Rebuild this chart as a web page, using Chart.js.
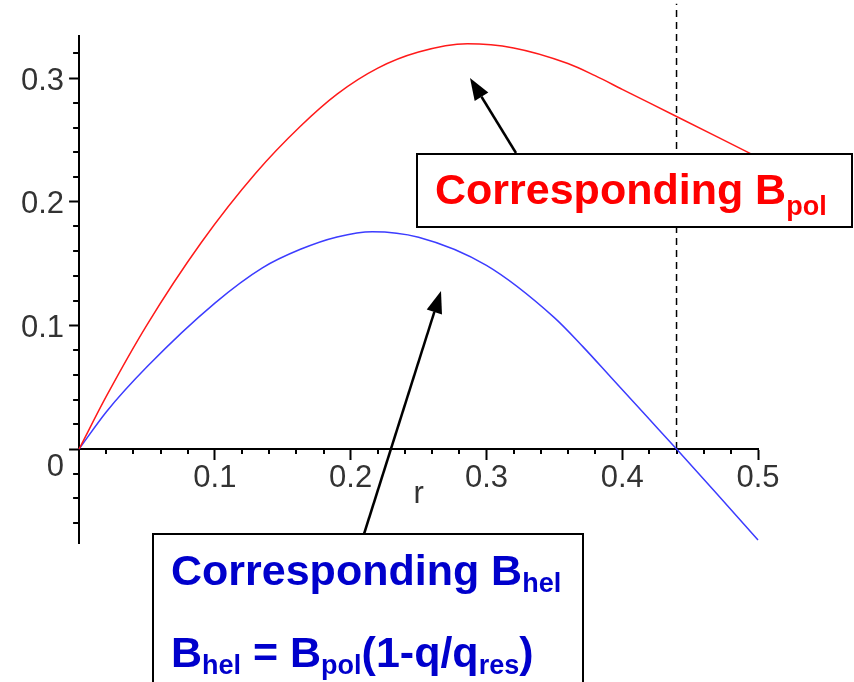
<!DOCTYPE html>
<html>
<head>
<meta charset="utf-8">
<script src="https://cdn.jsdelivr.net/npm/chart.js@4.4.1/dist/chart.umd.min.js"></script>
<style>
  html, body { margin: 0; padding: 0; background: #fff; }
  #wrap { width: 854px; height: 682px; position: relative; }
</style>
</head>
<body>
<div id="wrap"><canvas id="fieldChart"></canvas></div>
<script>
// poloidal field B_pol(r)
const rPol = [0, 0.02, 0.05, 0.09, 0.13, 0.163, 0.19, 0.22, 0.25, 0.286, 0.32, 0.36, 0.38, 0.40, 0.44, 0.47, 0.50];
const bPol = [0, 0.0425, 0.1004, 0.167, 0.223, 0.261, 0.287, 0.308, 0.321, 0.3277, 0.3243, 0.3117, 0.3019, 0.2909, 0.2689, 0.2524, 0.2359];

// helical field B_hel = B_pol (1 - q/q_res)
const rHel = [0, 0.02, 0.05, 0.10, 0.135, 0.163, 0.19, 0.216, 0.25, 0.30, 0.35, 0.371, 0.392, 0.42, 0.44, 0.47, 0.50];
const bHel = [0, 0.030, 0.0665, 0.118, 0.1465, 0.1615, 0.1715, 0.1758, 0.1713, 0.1485, 0.1063, 0.0828, 0.0576, 0.024, 0, -0.0365, -0.0735];

// resonant surface q = q_res
const rRes = [0.44, 0.44];
const resLine = [0, 0.3600];

const xMajor = [0.1, 0.2, 0.3, 0.4, 0.5];
const xMinor = [0.02, 0.04, 0.06, 0.08, 0.12, 0.14, 0.16, 0.18, 0.22, 0.24, 0.26, 0.28,
                0.32, 0.34, 0.36, 0.38, 0.42, 0.44, 0.46, 0.48];
const yMajor = [0, 0.1, 0.2, 0.3];
const yMinor = [-0.06, -0.04, -0.02, 0.02, 0.04, 0.06, 0.08, 0.12, 0.14, 0.16, 0.18,
                0.22, 0.24, 0.26, 0.28, 0.32];

const FONT = '"Liberation Sans", Arial, sans-serif';
const tickFont = { family: FONT, size: 31 };

const toPoints = (xs, ys) => xs.map((x, i) => ({ x: x, y: ys[i] }));

// short unlabeled ticks between the major ones
const minorTicks = {
  id: 'minorTicks',
  beforeDatasetsDraw(chart) {
    const { ctx, scales: { x, y } } = chart;
    const x0 = x.getPixelForValue(0);
    const y0 = y.getPixelForValue(0);
    ctx.save();
    ctx.strokeStyle = '#000';
    ctx.lineWidth = 2;
    ctx.beginPath();
    xMinor.forEach(v => {
      const px = Math.round(x.getPixelForValue(v));
      ctx.moveTo(px, y0);
      ctx.lineTo(px, y0 + 5);
    });
    yMinor.forEach(v => {
      const py = Math.round(y.getPixelForValue(v));
      ctx.moveTo(x0, py);
      ctx.lineTo(x0 - 6, py);
    });
    ctx.stroke();
    ctx.restore();
  }
};

function arrow(ctx, x1, y1, x2, y2) {
  const a = Math.atan2(y2 - y1, x2 - x1);
  const len = 22, half = 8;
  const bx = x2 - len * Math.cos(a), by = y2 - len * Math.sin(a);
  ctx.beginPath();
  ctx.moveTo(x1, y1);
  ctx.lineTo(bx, by);
  ctx.stroke();
  ctx.beginPath();
  ctx.moveTo(x2, y2);
  ctx.lineTo(bx + half * Math.sin(a), by - half * Math.cos(a));
  ctx.lineTo(bx - half * Math.sin(a), by + half * Math.cos(a));
  ctx.closePath();
  ctx.fill();
}

// text with subscripts: parts are [text, isSub]
function richText(ctx, x, y, parts, color, size, subSize, drop) {
  ctx.fillStyle = color;
  ctx.textAlign = 'left';
  ctx.textBaseline = 'alphabetic';
  parts.forEach(([text, sub]) => {
    ctx.font = 'bold ' + (sub ? subSize : size) + 'px ' + FONT;
    ctx.fillText(text, x, sub ? y + drop : y);
    x += ctx.measureText(text).width;
  });
}

const notes = {
  id: 'notes',
  afterDraw(chart) {
    const ctx = chart.ctx;
    ctx.save();
    ctx.strokeStyle = '#000';
    ctx.fillStyle = '#000';
    ctx.lineWidth = 2.5;
    arrow(ctx, 516, 153, 470, 78);
    arrow(ctx, 364, 534, 441, 291);

    ctx.lineWidth = 2;
    ctx.fillStyle = '#fff';
    ctx.fillRect(417, 154, 435, 73);
    ctx.strokeRect(417, 154, 435, 73);
    ctx.fillStyle = '#fff';
    ctx.fillRect(153, 534, 430, 160);
    ctx.strokeRect(153, 534, 430, 160);

    richText(ctx, 435, 204, [['Corresponding B'], ['pol', true]], '#ff0000', 43, 27, 11);
    richText(ctx, 171, 585, [['Corresponding B'], ['hel', true]], '#0000cc', 43, 27, 7);
    richText(ctx, 171, 667, [['B'], ['hel', true], [' = B'], ['pol', true], ['(1-q/q'], ['res', true], [')']],
             '#0000cc', 43, 27, 7);
    ctx.restore();
  }
};

const ctx = document.getElementById('fieldChart').getContext('2d');
const fieldChart = new Chart(ctx, {
  type: 'scatter',
  data: {
    datasets: [{
      data: toPoints(rPol, bPol),
      showLine: true,
      borderColor: '#ff1a1a',
      borderWidth: 1.5,
      pointRadius: 0,
      cubicInterpolationMode: 'monotone',
      clip: false
    }, {
      data: toPoints(rHel, bHel),
      showLine: true,
      borderColor: '#3c3cff',
      borderWidth: 1.5,
      pointRadius: 0,
      cubicInterpolationMode: 'monotone',
      clip: false
    }, {
      data: toPoints(rRes, resLine),
      showLine: true,
      borderColor: '#000',
      borderWidth: 1.5,
      borderDash: [7, 5],
      pointRadius: 0,
      tension: 0,
      clip: false
    }]
  },
  options: {
    responsive: true,
    maintainAspectRatio: false,
    animation: false,
    layout: { padding: { left: 16, top: 36, right: 96, bottom: 139 } },
    plugins: { legend: { display: false }, tooltip: { enabled: false } },
    scales: {
      x: {
        type: 'linear',
        position: { y: 0 },
        min: 0,
        max: 0.5,
        afterBuildTicks: s => { s.ticks = xMajor.map(v => ({ value: v })); },
        ticks: {
          callback: v => Number(v).toFixed(1),
          font: tickFont,
          color: '#333',
          padding: 1,
          maxRotation: 0,
          autoSkip: false
        },
        grid: { drawOnChartArea: false, tickLength: 10, tickWidth: 2, tickColor: '#000' },
        border: { display: true, color: '#000', width: 2 },
        title: { display: true, text: 'r', font: tickFont, color: '#333', padding: { top: -22, bottom: 0 } }
      },
      y: {
        type: 'linear',
        position: 'left',
        min: -0.076,
        max: 0.334,
        afterBuildTicks: s => { s.ticks = yMajor.map(v => ({ value: v })); },
        ticks: {
          // the zero label sits just under the r axis
          callback: v => (v === 0 ? ['', '0'] : Number(v).toFixed(1)),
          font: { family: FONT, size: 31, lineHeight: 1.0 },
          color: '#333',
          padding: 5,
          labelOffset: 3,
          autoSkip: false
        },
        grid: { drawOnChartArea: false, tickLength: 10, tickWidth: 2, tickColor: '#000' },
        border: { display: true, color: '#000', width: 2 }
      }
    }
  },
  plugins: [minorTicks, notes]
});
</script>
</body>
</html>
